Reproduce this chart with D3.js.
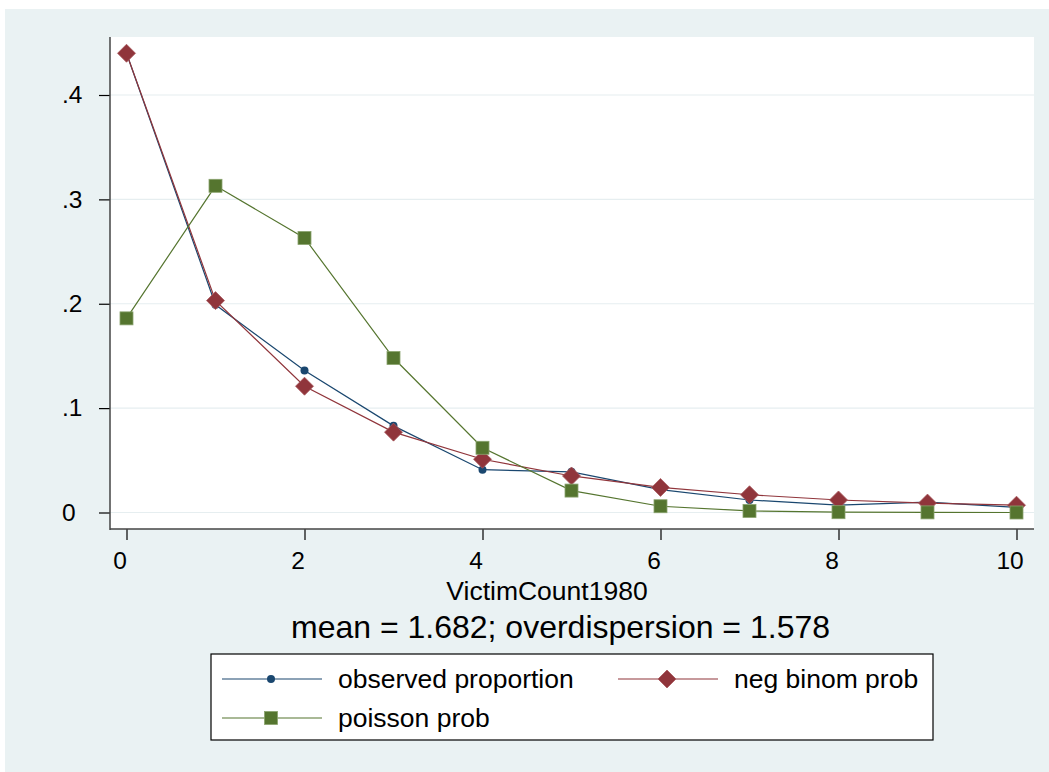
<!DOCTYPE html>
<html>
<head>
<meta charset="utf-8">
<script src="https://cdn.jsdelivr.net/npm/d3@7"></script>
<style>
  body { margin: 0; background: #ffffff; }
  svg text { font-family: "Liberation Sans", Arial, sans-serif; fill: #000; }
</style>
</head>
<body>
<div id="chart"></div>
<script>
'use strict'

// victim counts on the x axis
const counts = [0, 1, 2, 3, 4, 5, 6, 7, 8, 9, 10]

const observed = [0.440, 0.199, 0.136, 0.083, 0.041, 0.039, 0.022, 0.012, 0.007, 0.010, 0.005]
const negbinom = [0.440, 0.203, 0.121, 0.077, 0.051, 0.035, 0.024, 0.017, 0.012, 0.009, 0.007]
const poisson = [0.186, 0.313, 0.263, 0.148, 0.062, 0.021, 0.006, 0.0015, 0.0003, 0.0001, 0.0000]

const yTicks = [0, 0.1, 0.2, 0.3, 0.4]
const xTicks = [0, 2, 4, 6, 8, 10]

const xTitle = "VictimCount1980"
const subTitle = "mean = 1.682; overdispersion = 1.578"

const series = [
	{name: "observed proportion", values: observed, color: "#1a476f", marker: "circle"},
	{name: "neg binom prob", values: negbinom, color: "#90353b", marker: "diamond"},
	{name: "poisson prob", values: poisson, color: "#55752f", marker: "square"}
]

const width = 1049
const height = 772
const plot = {left: 110, top: 37, right: 1034, bottom: 529}

let svg = d3.select("#chart").append("svg").attr("width", width).attr("height", height)

// outer grey-blue background
svg.append("rect").attr("x", 5).attr("y", 9).attr("width", width - 5).attr("height", height - 9).attr("fill", "#eaf2f3")
svg.append("rect").attr("x", plot.left).attr("y", plot.top)
	.attr("width", plot.right - plot.left).attr("height", plot.bottom - plot.top).attr("fill", "#ffffff")

let xScale = d3.scaleLinear().domain([0, 10]).range([126.5, 1016.5])
let yScale = d3.scaleLinear().domain([0, 0.4]).range([512.5, 95])

// grid lines
svg.append("g").selectAll("line")
	.data(yTicks)
	.enter()
	.append("line")
	.attr("x1", plot.left).attr("x2", plot.right)
	.attr("y1", d => yScale(d)).attr("y2", d => yScale(d))
	.attr("stroke", "#e6eef0").attr("stroke-width", 1.2)

let yFmt = function(d){
	if (d == 0) return "0"
	return d3.format(".1f")(d).replace(/^0/, "")
}

let yAxis = svg.append("g")
	.attr("transform", "translate(" + plot.left + ",0)")
	.call(d3.axisLeft(yScale).tickValues(yTicks).tickFormat(yFmt).tickSize(11).tickPadding(15))
yAxis.select(".domain").remove()
// stata puts the y labels flush left
yAxis.selectAll(".tick text").attr("text-anchor", "start").attr("x", 62 - plot.left)
yAxis.append("line").attr("x1", 0).attr("x2", 0).attr("y1", plot.top).attr("y2", plot.bottom + 1)
	.attr("stroke", "#444").attr("stroke-width", 1.5)

let xAxis = svg.append("g")
	.attr("transform", "translate(0," + plot.bottom + ")")
	.call(d3.axisBottom(xScale).tickValues(xTicks).tickFormat(d3.format("d")).tickSize(11).tickPadding(12))
xAxis.select(".domain").remove()
xAxis.selectAll(".tick text").attr("dx", -7)
xAxis.append("line").attr("x1", plot.left).attr("x2", plot.right).attr("y1", 0).attr("y2", 0)
	.attr("stroke", "#444").attr("stroke-width", 1.5)

svg.selectAll(".tick line").attr("stroke", "#000").attr("stroke-width", 1.2)
svg.selectAll(".tick text").style("font-size", "24.5px").attr("fill", "#000")

svg.append("text").attr("x", 547).attr("y", 600).attr("text-anchor", "middle")
	.style("font-size", "26.5px").text(xTitle)
svg.append("text").attr("x", 560.5).attr("y", 638).attr("text-anchor", "middle")
	.style("font-size", "32px").text(subTitle)

function drawMarker(g, type, color){
	if (type == "circle"){
		g.append("circle").attr("r", 4).attr("fill", color)
	}
	else if (type == "diamond"){
		g.append("path").attr("d", "M0,-9L9,0L0,9L-9,0Z").attr("fill", color)
			.attr("stroke", "#a85a5f").attr("stroke-width", 0.8)
	}
	else {
		g.append("rect").attr("x", -6.5).attr("y", -6.5).attr("width", 13).attr("height", 13).attr("fill", color)
			.attr("stroke", "#8aa36e").attr("stroke-width", 0.8)
	}
}

let line = d3.line()
	.x((d, i) => xScale(counts[i]))
	.y(d => yScale(d))

series.forEach(function(s){
	let g = svg.append("g")
	g.append("path").datum(s.values)
		.attr("d", line)
		.attr("fill", "none")
		.attr("stroke", s.color)
		.attr("stroke-width", 1.2)
	s.values.forEach(function(v, i){
		let m = g.append("g").attr("transform", "translate(" + xScale(counts[i]) + "," + yScale(v) + ")")
		drawMarker(m, s.marker, s.color)
	})
})

// legend
let leg = svg.append("g")
leg.append("rect").attr("x", 211).attr("y", 654).attr("width", 722).attr("height", 86)
	.attr("fill", "#fff").attr("stroke", "#000").attr("stroke-width", 1.2)

let legPos = [
	{x: 222, y: 679},
	{x: 618, y: 679},
	{x: 222, y: 718}
]

series.forEach(function(s, i){
	let p = legPos[i]
	leg.append("line").attr("x1", p.x).attr("x2", p.x + 100).attr("y1", p.y).attr("y2", p.y)
		.attr("stroke", s.color).attr("stroke-width", 1.2)
	let m = leg.append("g").attr("transform", "translate(" + (p.x + 49) + "," + p.y + ")")
	drawMarker(m, s.marker, s.color)
	leg.append("text").attr("x", p.x + 116).attr("y", p.y + 9)
		.style("font-size", "26.5px").text(s.name)
})
</script>
</body>
</html>
